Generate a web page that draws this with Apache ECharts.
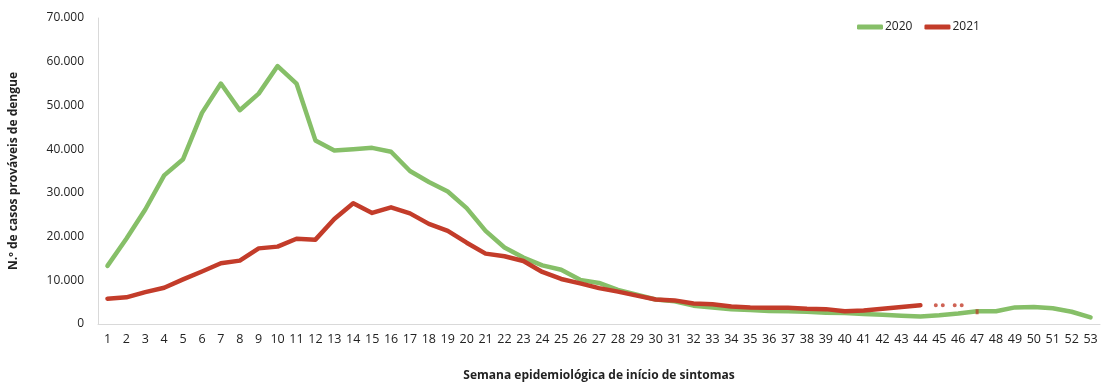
<!DOCTYPE html>
<html>
<head>
<meta charset="utf-8">
<script src="https://cdn.jsdelivr.net/npm/echarts@6/dist/echarts.min.js"></script>
<style>
  html, body { margin: 0; padding: 0; background: #ffffff; }
  #chart { width: 1115px; height: 387px; }
</style>
</head>
<body>
<div id="chart"></div>
<script>
// Epidemiological weeks 1–53
const weeks = Array.from({ length: 53 }, (_, i) => String(i + 1));

// Probable dengue cases per week of symptom onset
const cases2020 = [
  13300, 19500, 26200, 34000, 37700, 48300, 55000, 48900, 52700, 59000,
  55000, 42000, 39700, 40000, 40300, 39400, 35000, 32500, 30300, 26500,
  21300, 17500, 15200, 13400, 12400, 10100, 9400, 7800, 6700, 5600,
  5200, 4200, 3800, 3400, 3200, 3000, 2900, 2800, 2600, 2500,
  2300, 2100, 1900, 1700, 2000, 2400, 2900, 2900, 3800, 3900,
  3600, 2800, 1500
];

const cases2021 = [
  5800, 6100, 7300, 8300, 10200, 12000, 13900, 14500, 17300, 17700,
  19500, 19300, 24000, 27600, 25400, 26700, 25300, 22900, 21300, 18600,
  16100, 15500, 14400, 11900, 10300, 9300, 8200, 7400, 6500, 5600,
  5400, 4700, 4500, 4000, 3800, 3700, 3700, 3500, 3400, 2900,
  3100, 3500, 3900, 4300
];

// Provisional 2021 weeks, drawn as dot marks
const provisional2021 = [[44, 4300], [45, 4300]];
const provisionalTick2021 = [[46, 2800]];

const yTicks = { min: 0, max: 70000, interval: 10000 };

const green = '#86bf68';
const red = '#c33c2a';
const textColor = '#222222';
const font = '"Open Sans", "Noto Sans", sans-serif';

const fmtThousands = v => v === 0 ? '0' : String(v).replace(/\B(?=(\d{3})+(?!\d))/g, '.');

const chart = echarts.init(document.getElementById('chart'), null, { renderer: 'canvas' });

chart.setOption({
  animation: false,
  backgroundColor: '#ffffff',
  textStyle: { fontFamily: font, color: textColor },
  legend: {
    data: ['2020', '2021'],
    left: 852,
    top: 16,
    itemWidth: 26,
    itemHeight: 5,
    itemGap: 12,
    icon: 'roundRect',
    textStyle: { fontSize: 12, color: textColor, fontFamily: font, padding: [0, 0, 0, -3] }
  },
  grid: { left: 97, right: 15, top: 18, bottom: 57, containLabel: false },
  xAxis: {
    type: 'category',
    data: weeks,
    boundaryGap: true,
    name: 'Semana epidemiológica de início de sintomas',
    nameLocation: 'middle',
    nameGap: 46,
    nameTextStyle: { fontSize: 12, fontWeight: 'bold', color: textColor, fontFamily: font },
    axisLine: { show: true, lineStyle: { color: '#d9d9d9', width: 1 } },
    axisTick: { show: false },
    axisLabel: { interval: 0, fontSize: 12.5, color: textColor, margin: 9, fontFamily: font },
    splitLine: { show: false }
  },
  yAxis: {
    type: 'value',
    min: yTicks.min,
    max: yTicks.max,
    interval: yTicks.interval,
    name: 'N.º de casos prováveis de dengue',
    nameLocation: 'middle',
    nameGap: 78,
    nameRotate: 90,
    nameTextStyle: { fontSize: 12, fontWeight: 'bold', color: textColor, fontFamily: font },
    axisLine: { show: true, lineStyle: { color: '#d9d9d9', width: 1 } },
    axisTick: { show: false },
    axisLabel: { fontSize: 12, color: textColor, margin: 14, formatter: fmtThousands, fontFamily: font },
    splitLine: { show: false }
  },
  series: [
    {
      name: '2020',
      type: 'line',
      data: cases2020,
      symbol: 'none',
      color: green,
      lineStyle: { color: green, width: 4.5, cap: 'round', join: 'round' },
      z: 2
    },
    {
      name: '2021',
      type: 'line',
      data: cases2021,
      symbol: 'none',
      color: red,
      lineStyle: { color: red, width: 4.5, cap: 'round', join: 'round' },
      z: 3
    },
    {
      name: '2021 provisório',
      type: 'scatter',
      data: provisional2021,
      symbol: 'path://M2,0A2,2 0 1,1 2,4A2,2 0 1,1 2,0ZM9,0A2,2 0 1,1 9,4A2,2 0 1,1 9,0Z',
      symbolSize: [11, 4],
      itemStyle: { color: red },
      z: 4
    },
    {
      name: '2021 marca',
      type: 'scatter',
      data: provisionalTick2021,
      symbol: 'rect',
      symbolSize: [3, 5],
      itemStyle: { color: '#b4472a' },
      z: 4
    }
  ]
});
</script>
</body>
</html>
